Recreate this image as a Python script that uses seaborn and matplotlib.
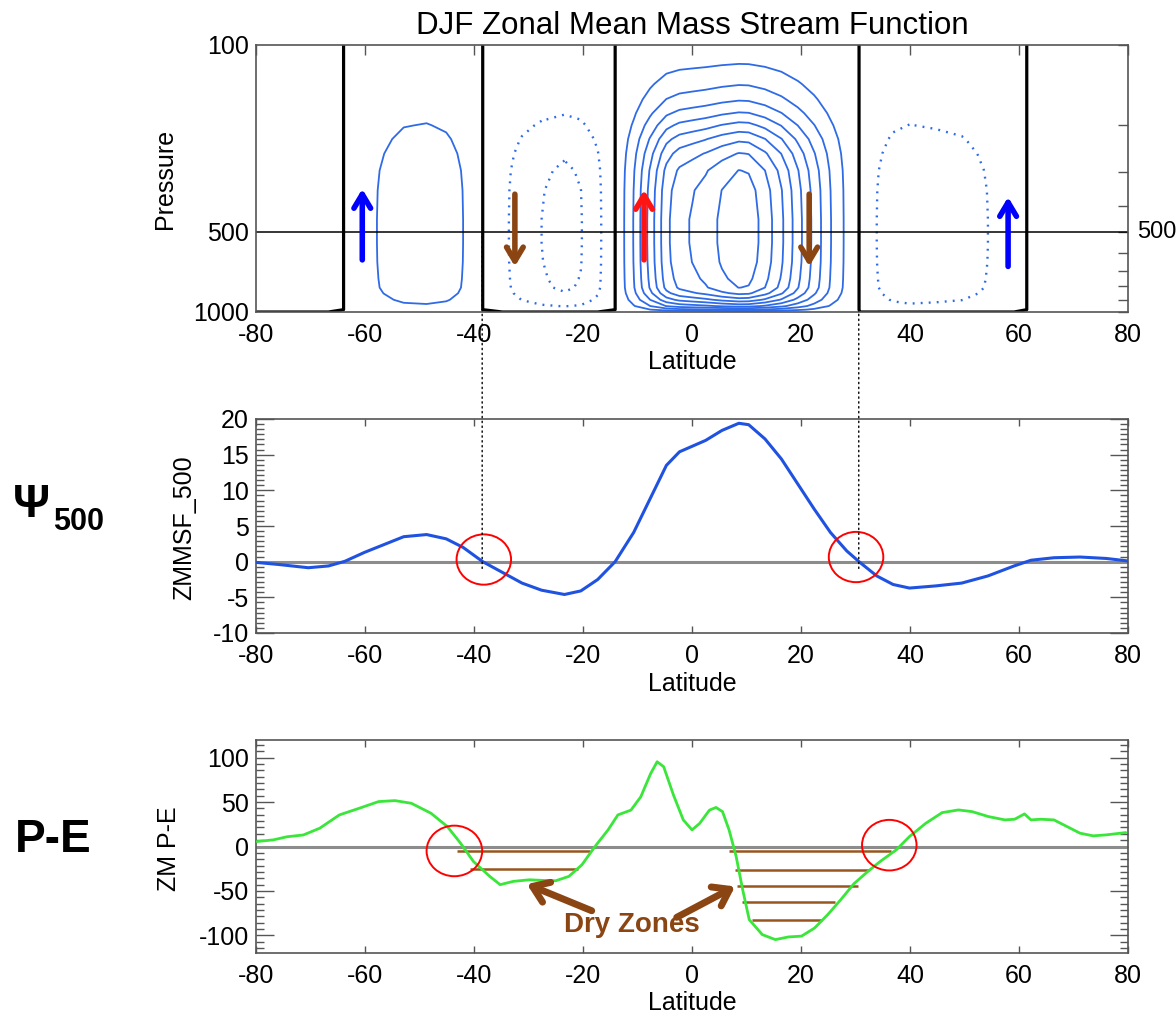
import numpy as np
import pandas as pd
import matplotlib
matplotlib.use("Agg")
import matplotlib.pyplot as plt
import matplotlib.transforms as mtransforms
from matplotlib.patches import Ellipse, ConnectionPatch
from matplotlib.ticker import FixedLocator, NullFormatter, FuncFormatter, MultipleLocator, AutoMinorLocator
import seaborn as sns

# ---------------- data ----------------
# DJF zonal-mean mass stream function at 500 hPa
psi_lat = [-80, -75.8, -70.4, -66.7, -63.7, -60.1, -56.5, -52.9, -48.7, -45.1, -42.0, -38.4,
           -34.8, -31.2, -27.6, -23.4, -20.4, -17.3, -14.1, -10.7, -7.7, -4.7, -2.3, 0.1,
           2.5, 5.5, 8.6, 10.4, 13.4, 16.4, 19.4, 22.4, 25.4, 28.4, 30.8, 33.9, 36.9, 39.9,
           44.7, 49.5, 54.3, 59.1, 62.2, 66.4, 71.2, 76.0, 80]
psi_500 = [-0.1, -0.4, -0.85, -0.6, 0.05, 1.3, 2.4, 3.5, 3.8, 3.2, 2.0, 0.0,
           -1.5, -3.0, -4.0, -4.6, -4.1, -2.5, 0.0, 4.1, 8.8, 13.5, 15.4, 16.2,
           17.0, 18.4, 19.4, 19.2, 17.2, 14.4, 10.9, 7.4, 4.1, 1.5, -0.1, -2.0, -3.2, -3.7,
           -3.4, -3.0, -2.0, -0.6, 0.2, 0.55, 0.65, 0.45, 0.1]

# vertical weighting of the circulation (1 at 500 hPa)
pres_levels = [100, 117, 140, 160, 180, 200, 225, 255, 295, 350, 450, 550, 650, 750,
               810, 850, 900, 950, 980, 1000]
pres_weight = [0.03, 0.10, 0.20, 0.30, 0.42, 0.55, 0.70, 0.83, 0.93, 0.98, 1.0, 1.0, 0.99, 0.96,
               0.93, 0.85, 0.68, 0.45, 0.22, 0.0]

pos_levels = [2, 4, 6, 8, 10, 12, 14, 16, 18]
neg_levels = [-4, -2]

# zonal-mean precipitation minus evaporation
pe_lat = [-79.8, -76.8, -74.3, -71.3, -68.3, -64.7, -61.1, -57.5, -54.5, -51.5, -47.9, -44.9,
          -42.5, -40.1, -37.1, -35.2, -32.8, -29.8, -27.4, -25.0, -22.6, -20.2, -17.8, -15.4,
          -13.6, -11.2, -9.4, -7.6, -6.4, -5.2, -3.4, -1.6, 0.0, 1.4, 3.2, 4.4, 5.6, 6.8, 8.1,
          9.3, 10.5, 12.9, 15.3, 17.7, 20.1, 22.5, 24.9, 27.3, 29.7, 32.1, 34.5, 37.5, 39.9,
          42.9, 45.9, 48.9, 51.4, 54.4, 57.4, 59.2, 61.0, 62.2, 64.0, 66.4, 68.8, 71.2, 73.6,
          76.0, 79.6]
pe_val = [5.6, 7.5, 11, 13, 20.6, 35.6, 43, 50.6, 51.7, 48.7, 37.5, 22.5,
          4, -16.9, -33.7, -43, -39.3, -37.5, -38.2, -38.6, -33.7, -20.6, 0, 18.7,
          35.6, 41, 56, 82, 95.5, 89.9, 58, 30, 18.7, 26, 41, 44, 39.3, 18.7, -11.2,
          -48.7, -82.4, -99.3, -104.9, -101.9, -101, -91.8, -76.8, -59.9, -42, -29, -17, -3.7, 11.2,
          26.2, 38.2, 41.2, 39.3, 33.7, 30, 30.7, 36.7, 30, 30.7, 30, 22.5, 15, 12,
          13.1, 15.7]

# circulation arrows on the stream-function panel
arrow_lat = [-60.5, -32.5, -8.8, 21.5, 58.0]
arrow_from = [638, 362, 638, 362, 675]
arrow_to = [346, 675, 349, 675, 371]
arrow_color = ["#0000ff", "#8b4513", "#ff1414", "#8b4513", "#0000ff"]

# latitudes where the 500 hPa stream function changes sign
crossing_lat = [-38.5, 30.6]

# highlighted crossings (lat, value, width, height)
psi_circles = [(-38.2, 0.3, 10.0, 7.05), (30.1, 0.65, 10.0, 7.05)]
pe_circles = [(-43.6, -5.0, 10.2, 57.0), (36.2, 1.5, 10.0, 57.0)]

# dry-zone hatch lines: (level, start lat, end lat)
dry_lines = [(-5, -43.1, -18.7), (-25, -40.7, -20.9),
             (-5, 6.8, 36.6), (-26, 7.9, 32.4), (-44, 8.3, 30.5), (-62, 9.1, 26.3), (-83, 11.1, 23.8)]

# ---------------- style ----------------
sns.set_style("white")
plt.rcParams["font.family"] = ["Liberation Sans", "DejaVu Sans"]
plt.rcParams["axes.edgecolor"] = "#555555"
plt.rcParams["axes.linewidth"] = 1.2
plt.rcParams["axes.unicode_minus"] = False
plt.rcParams["text.color"] = "black"
plt.rcParams["axes.labelcolor"] = "black"
plt.rcParams["xtick.color"] = "black"
plt.rcParams["ytick.color"] = "black"

CONTOUR_BLUE = "#2f6be6"
PSI_BLUE = "#1f52e0"
PE_GREEN = "#3ae63a"
BROWN = "#8b4513"
HATCH = "#98561e"
TICK_C = "#555555"

W, H = 1176, 1019
fig = plt.figure(figsize=(W / 100, H / 100), dpi=100)


def box(l, t, r, b):
    return [l / W, 1 - b / H, (r - l) / W, (b - t) / H]


ax1 = fig.add_axes(box(256, 45, 1128, 312))
ax2 = fig.add_axes(box(256, 419, 1128, 633))
ax3 = fig.add_axes(box(256, 740, 1128, 953))

# ---------------- top: stream function cross-section ----------------
field = np.outer(pres_weight, psi_500)
ax1.contour(psi_lat, pres_levels, field, levels=pos_levels, colors=CONTOUR_BLUE,
            linewidths=1.3, linestyles="solid")
ax1.contour(psi_lat, pres_levels, field, levels=neg_levels, colors=CONTOUR_BLUE,
            linewidths=1.7, linestyles=[(0, (0.8, 2.6))])
# zero line, set just below zero so it runs along the surface under negative cells
ax1.contour(psi_lat, pres_levels, field, levels=[-1e-6], colors="black",
            linewidths=2.3, linestyles="solid")
ax1.axhline(500, color="black", lw=1.1)

ax1.set_yscale("log")
ax1.set_ylim(1000, 100)
ax1.set_xlim(-80, 80)
ax1.yaxis.set_major_locator(FixedLocator([100, 500, 1000]))
ax1.yaxis.set_major_formatter(FuncFormatter(lambda v, _: f"{v:g}"))
ax1.yaxis.set_minor_locator(FixedLocator([200, 300, 400, 600, 700, 800, 900]))
ax1.yaxis.set_minor_formatter(NullFormatter())
ax1.set_xticks(range(-80, 81, 20))
ax1.tick_params(axis="both", which="both", direction="in", top=True, right=True,
                length=7, width=1, color=TICK_C, labelsize=18, pad=5)
ax1.tick_params(axis="x", pad=8)
ax1.text(1.01, 500, "500", fontsize=17, va="center", ha="left",
         transform=mtransforms.blended_transform_factory(ax1.transAxes, ax1.transData))
ax1.set_title("DJF Zonal Mean Mass Stream Function", fontsize=22.5, pad=8)
ax1.set_ylabel("Pressure", fontsize=18, va="center")
ax1.yaxis.set_label_coords(-0.1044, 0.5)
ax1.set_xlabel("Latitude", fontsize=18)
ax1.xaxis.set_label_coords(0.5, -0.142)

for lat, p0, p1, c in zip(arrow_lat, arrow_from, arrow_to, arrow_color):
    ax1.annotate("", xy=(lat, p1), xytext=(lat, p0),
                 arrowprops=dict(arrowstyle="->,head_length=0.5,head_width=0.3", lw=4,
                                 color=c, mutation_scale=20, shrinkA=0, shrinkB=0))

# ---------------- middle: stream function at 500 hPa ----------------
df_psi = pd.DataFrame({"lat": psi_lat, "psi": psi_500})
ax2.axhline(0, color="#8c8c8c", lw=2.2, zorder=1)
sns.lineplot(data=df_psi, x="lat", y="psi", ax=ax2, color=PSI_BLUE, linewidth=2.2,
             estimator=None, sort=False, zorder=3)
ax2.set_xlim(-80, 80)
ax2.set_ylim(-10, 20)
ax2.set_xticks(range(-80, 81, 20))
ax2.yaxis.set_major_locator(MultipleLocator(5))
ax2.yaxis.set_minor_locator(AutoMinorLocator(7))
ax2.set_ylabel("ZMMSF_500", fontsize=18, va="center")
ax2.yaxis.set_label_coords(-0.0826, 0.49)
ax2.set_xlabel("Latitude", fontsize=18)
ax2.xaxis.set_label_coords(0.5, -0.182)
for (cx, cy, w, h) in psi_circles:
    ax2.add_patch(Ellipse((cx, cy), w, h, fill=False, edgecolor="red", lw=1.4, zorder=4))

# ---------------- bottom: P - E ----------------
df_pe = pd.DataFrame({"lat": pe_lat, "pe": pe_val})
ax3.axhline(0, color="#8c8c8c", lw=2.2, zorder=1)
sns.lineplot(data=df_pe, x="lat", y="pe", ax=ax3, color=PE_GREEN, linewidth=2.0,
             estimator=None, sort=False, zorder=3)
ax3.set_xlim(-80, 80)
ax3.set_ylim(-120, 120)
ax3.set_xticks(range(-80, 81, 20))
ax3.yaxis.set_major_locator(MultipleLocator(50))
ax3.yaxis.set_minor_locator(AutoMinorLocator(7))
ax3.set_ylabel("ZM P-E", fontsize=18, va="center")
ax3.yaxis.set_label_coords(-0.0998, 0.49)
ax3.set_xlabel("Latitude", fontsize=18)
ax3.xaxis.set_label_coords(0.5, -0.178)
for lev, x0, x1 in dry_lines:
    ax3.hlines(lev, x0, x1, color=HATCH, lw=1.8, zorder=2)
for (cx, cy, w, h) in pe_circles:
    ax3.add_patch(Ellipse((cx, cy), w, h, fill=False, edgecolor="red", lw=1.4, zorder=4))

ax3.text(-11.1, -89, "Dry Zones", color=BROWN, fontsize=20, fontweight="bold",
         ha="center", va="center")
for tail, head in [((-18.4, -72.4), (-30.3, -42.4)), ((-2.8, -79.8), (7.9, -45.0))]:
    ax3.annotate("", xy=head, xytext=tail,
                 arrowprops=dict(arrowstyle="->,head_length=0.5,head_width=0.35", lw=5,
                                 color=BROWN, mutation_scale=22, shrinkA=0, shrinkB=0))

for ax in (ax2, ax3):
    ax.tick_params(axis="y", which="major", direction="in", left=True, right=True,
                   length=13, width=1, color=TICK_C, labelsize=18, pad=5)
    ax.tick_params(axis="y", which="minor", direction="in", left=True, right=True,
                   length=6, width=1, color=TICK_C)
    ax.tick_params(axis="x", which="major", direction="in", bottom=True, top=True,
                   length=5, width=1, color=TICK_C, labelsize=18, pad=8)

# dotted guides from the zero crossings of the 500 hPa stream function
for lat in crossing_lat:
    con = ConnectionPatch(xyA=(lat, 500), coordsA="data", axesA=ax1,
                          xyB=(lat, -1.1), coordsB="data", axesB=ax2,
                          color="black", lw=1.0, linestyle=(0, (1, 2.5)))
    fig.add_artist(con)

# row labels
fig.text(13 / W, 1 - 517 / H, "Ψ", fontsize=33, fontweight="bold", va="baseline", ha="left")
fig.text(53 / W, 1 - 530 / H, "500", fontsize=22, fontweight="bold", va="baseline", ha="left")
fig.text(15 / W, 1 - 852 / H, "P-E", fontsize=33, fontweight="bold", va="baseline", ha="left")

fig.savefig("out.png", dpi=100)
